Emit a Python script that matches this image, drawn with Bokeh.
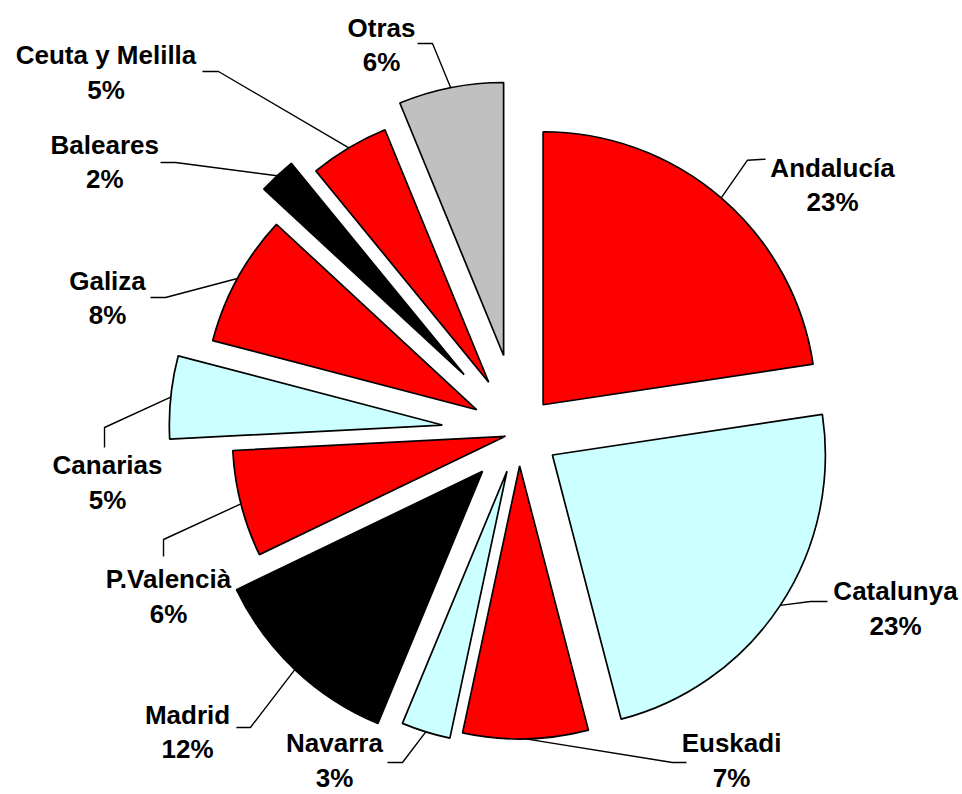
import math
from bokeh.plotting import figure
from bokeh.models import Range1d, ColumnDataSource
from bokeh.core.properties import value
from bokeh.embed import file_html
from bokeh.resources import INLINE

# ---- data -------------------------------------------------------------
regions = ["Andalucía", "Catalunya", "Euskadi", "Navarra", "Madrid",
           "P.Valencià", "Canarias", "Galiza", "Baleares",
           "Ceuta y Melilla", "Otras"]
shares = [22.6, 23.3, 7.4, 2.9, 11.6, 6.3, 4.9, 7.8, 2.2, 4.7, 6.2]

# ---- styles -----------------------------------------------------------
RED, CYAN, BLACK, GREY = "#FF0000", "#CCFFFF", "#000000", "#C0C0C0"
colors = [RED, CYAN, RED, CYAN, BLACK, RED, CYAN, RED, BLACK, RED, GREY]
# explosion of each slice, as a fraction of the radius
explode = [0.136, 0.147, 0.121, 0.147, 0.194, 0.051, 0.282, 0.176, 0.293, 0.216, 0.289]

# label block centres (data units, pie centre = 0,0, radius = 1)
label_pos = [(1.1487, 0.9084), (1.3795, -0.6432), (0.7788, -1.2000),
             (-0.6755, -1.2000), (-1.2139, -1.0956), (-1.2835, -0.5993),
             (-1.5070, -0.1817), (-1.5070, 0.4941), (-1.5172, 0.9923),
             (-1.5125, 1.3194), (-0.5033, 1.4209)]
# leader line elbow and end points (data units)
leader_elbow = [(0.8374, 0.9989), (1.0681, -0.6176), (0.5626, -1.2073),
                (-0.4264, -1.2073), (-0.9835, -1.0791), (-1.3018, -0.3905),
                (-1.5179, 0.0198), (-1.2945, 0.4960), (-1.2579, 0.9905),
                (-1.1004, 1.3238), (-0.3165, 1.4264)]
leader_end = [(0.9033, 1.0026), (1.1304, -0.6176), (0.6139, -1.2073),
              (-0.4813, -1.2073), (-1.0348, -1.0791), (-1.3018, -0.4527),
              (-1.5179, -0.0535), (-1.3495, 0.4960), (-1.3128, 0.9905),
              (-1.1590, 1.3238), (-0.3714, 1.4264)]

W, H = 960, 794
R_PX = 273.0
CX_PX, CY_PX = 518.4, 432.4   # pie centre inside the figure (from left / top)

FONT = value("Liberation Sans")
FS = "26px"
LINE_OFF = 17.25 / R_PX

# ---- geometry from the data -------------------------------------------
total = sum(shares)
xs, ys, starts, ends, mids = [], [], [], [], []
cum = 0.0
for s, e in zip(shares, explode):
    a0 = cum / total * 2 * math.pi
    cum += s
    a1 = cum / total * 2 * math.pi
    m = (a0 + a1) / 2
    mids.append(m)
    xs.append(e * math.sin(m))
    ys.append(e * math.cos(m))
    starts.append(math.pi / 2 - a0)
    ends.append(math.pi / 2 - a1)

src = ColumnDataSource(dict(x=xs, y=ys, start=starts, end=ends, color=colors))

p = figure(width=W, height=H, output_backend="svg", toolbar_location=None,
           x_range=Range1d(-CX_PX / R_PX, (W - CX_PX) / R_PX),
           y_range=Range1d(-(H - CY_PX) / R_PX, CY_PX / R_PX),
           x_axis_location=None, y_axis_location=None,
           min_border=0, background_fill_color="white")
p.outline_line_color = None
p.grid.visible = False

p.wedge(x="x", y="y", radius=1.0, start_angle="start", end_angle="end",
        direction="clock", fill_color="color", line_color="black",
        line_width=1.7, source=src)

# leader lines
lx, ly = [], []
for i in range(len(shares)):
    sx = xs[i] + math.sin(mids[i])
    sy = ys[i] + math.cos(mids[i])
    lx.append([sx, leader_elbow[i][0], leader_end[i][0]])
    ly.append([sy, leader_elbow[i][1], leader_end[i][1]])
p.multi_line(xs=lx, ys=ly, line_color="black", line_width=1.4)

pct = ["%d%%" % round(s / total * 100) for s in shares]
p.text(x=[q[0] for q in label_pos], y=[q[1] + LINE_OFF for q in label_pos],
       text=regions, text_font=FONT, text_font_style="bold",
       text_font_size=FS, text_align="center", text_baseline="middle",
       text_color="black")
p.text(x=[q[0] for q in label_pos], y=[q[1] - LINE_OFF for q in label_pos],
       text=pct, text_font=FONT, text_font_style="bold",
       text_font_size=FS, text_align="center", text_baseline="middle",
       text_color="black")

open("out.html", "w").write(file_html(p, INLINE))
